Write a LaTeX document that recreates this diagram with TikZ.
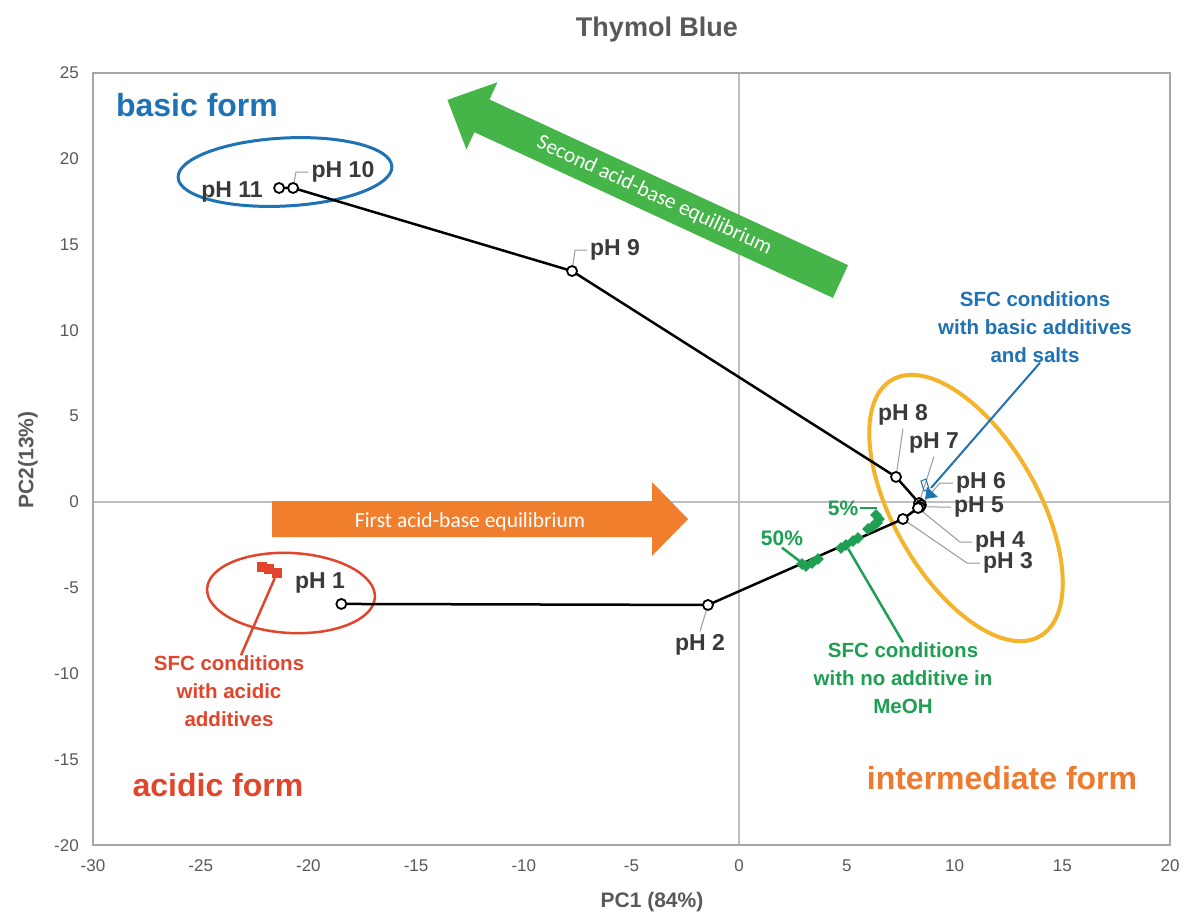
\documentclass[tikz,border=0pt]{standalone}
\usepackage{fontspec}
\setmainfont{Liberation Sans}
\newfontfamily\calibri{Carlito}
\usetikzlibrary{positioning, shapes.geometric}

\definecolor{framegray}{HTML}{A6A6A6}
\definecolor{zerogray}{HTML}{BFBFBF}
\definecolor{tickgray}{HTML}{595959}
\definecolor{phgray}{HTML}{3A3A3A}
\definecolor{leadgray}{HTML}{9A9A9A}
\definecolor{basicblue}{HTML}{1F72B4}
\definecolor{acidred}{HTML}{E1462C}
\definecolor{midorange}{HTML}{EE7A30}
\definecolor{ringyellow}{HTML}{F3B32B}
\definecolor{sfcgreen}{HTML}{1E9F52}
\definecolor{arrowgreen}{HTML}{46B549}
\definecolor{arroworange}{HTML}{F07E2D}

\tikzset{
  phlab/.style={font=\bfseries\fontsize{23}{23}\selectfont, text=phgray, inner sep=3pt},
  phpt/.style={circle, draw=black, fill=white, line width=1.8pt, minimum size=10pt, inner sep=0pt},
  leader/.style={draw=leadgray, line width=1pt},
  ticklab/.style={font=\fontsize{17}{17}\selectfont, text=tickgray, inner sep=0pt},
  axtitle/.style={font=\bfseries\fontsize{21}{21}\selectfont, text=tickgray, inner sep=0pt},
  formlab/.style={font=\bfseries\fontsize{32}{32}\selectfont, inner sep=0pt},
  sfclab/.style={font=\bfseries\fontsize{20.5}{28}\selectfont, align=center, inner sep=0pt},
  pctlab/.style={font=\bfseries\fontsize{21}{21}\selectfont, text=sfcgreen, inner sep=2pt},
  arrowtext/.style={font=\calibri\fontsize{21.5}{21.5}\selectfont, text=white, inner sep=0pt},
  gmark/.style={diamond, fill=sfcgreen, minimum size=12pt, inner sep=0pt},
  rmark/.style={rectangle, fill=acidred, minimum size=10pt, inner sep=0pt},
}

\begin{document}
\begin{tikzpicture}[x=1pt, y=-1pt, every node/.style={anchor=center}]
\path[use as bounding box, fill=white] (0,0) rectangle (1184,914);

% zero lines and frame
\draw[zerogray, line width=1.5pt] (739.2,73) -- (739.2,845);
\draw[zerogray, line width=1.5pt] (93,502) -- (1170,502);
\draw[framegray, line width=1.5pt] (93,73) rectangle (1170,845);

% tick labels
\foreach \v in {-20,-15,...,25}
  \node[ticklab, anchor=east] (ytick\v) at (79,{502-17.16*(\v)}) {\v};
\foreach \v in {-30,-25,...,20}
  \node[ticklab] (xtick\v) at ({739.2+21.54*(\v)},866) {\v};

\node[font=\bfseries\fontsize{27}{27}\selectfont, text=tickgray] (title) at (657,30) {Thymol Blue};
\node[axtitle] (xtitle) at (652,902) {PC1 (84\%)};
\node[axtitle, rotate=90] (ytitle) at (28,460) {PC2(13\%)};

% big arrows
\begin{scope}[shift={(840.5,281.5)}, rotate=155.2]
  \fill[arrowgreen] (0,-18) -- (395,-18) -- (395,-37) -- (433,0) -- (395,37) -- (395,18) -- (0,18) -- cycle;
  \node[arrowtext, rotate=-24.8] (eqtwo) at (205,0) {Second acid-base equilibrium};
\end{scope}
\begin{scope}[shift={(272,519)}]
  \fill[arroworange] (0,-18) -- (380,-18) -- (380,-37) -- (416,0) -- (380,37) -- (380,18) -- (0,18) -- cycle;
  \node[arrowtext] (eqone) at (198,3) {First acid-base equilibrium};
\end{scope}

% form regions
\draw[basicblue, line width=3pt, rotate around={3:(285,172)}] (285,172) ellipse [x radius=107pt, y radius=34pt];
\draw[acidred, line width=2.5pt, rotate around={-3:(291,593)}] (291,593) ellipse [x radius=84pt, y radius=40pt];
\draw[ringyellow, line width=4pt, rotate around={-60:(966,508)}] (966,508) ellipse [x radius=148pt, y radius=72pt];

\node[formlab, text=basicblue] (basic) at (197,105) {basic form};
\node[formlab, text=acidred] (acidic) at (218,785) {acidic form};
\node[formlab, text=midorange] (inter) at (1002,778) {intermediate form};

% pH scores in data units
\begin{scope}[shift={(739.2,502)}, x=21.54pt, y=17.16pt]
  \foreach \n/\px/\py in {11/-21.36/18.30, 10/-20.71/18.30, 9/-7.76/13.46, 8/7.28/1.46,
                         7/8.35/-0.06, 6/8.44/-0.17, 5/8.39/-0.29, 4/8.30/-0.35,
                         3/7.60/-0.99, 2/-1.45/-6.00, 1/-18.47/-5.94}
    \coordinate (c\n) at (\px,\py);
\end{scope}

% pH labels
\node[phlab] (lab11) at (232,192) {pH 11};
\node[phlab] (lab10) at (343,172) {pH 10};
\node[phlab] (lab9) at (615,250) {pH 9};
\node[phlab] (lab8) at (903,415) {pH 8};
\node[phlab] (lab7) at (934,443) {pH 7};
\node[phlab] (lab6) at (981,483) {pH 6};
\node[phlab] (lab5) at (979,507) {pH 5};
\node[phlab] (lab4) at (1000,542) {pH 4};
\node[phlab] (lab3) at (1008,563) {pH 3};
\node[phlab] (lab2) at (700,645) {pH 2};
\node[phlab] (lab1) at (320,583) {pH 1};

% leaders
\draw[leader] (c10) -- (296,172) -- (lab10.west);
\draw[leader] (c9) -- (575,250) -- (lab9.west);
\draw[leader] (c8) -- (lab8.south);
\draw[leader] (c7) -- (lab7.south);
\draw[leader] (c6) -- (940,483) -- (lab6.west);
\draw[leader] (c5) -- (lab5.west);
\draw[leader] (c4) -- (960,542) -- (lab4.west);
\draw[leader] (c3) -- (967,563) -- (lab3.west);
\draw[leader] (c2) -- (lab2.north);

% titration path
\draw[line width=2.5pt] (c11) -- (c10) -- (c9) -- (c8) -- (c7) -- (c6) -- (c5) -- (c4) -- (c3) -- (c2) -- (c1);
\foreach \n in {11,...,1}
  \node[phpt] (p\n) at (c\n) {};

% SFC conditions, no additive
\foreach \gx/\gy [count=\i] in {876/515, 879/519, 877/523, 873/526, 868/529,
                                858/538, 853/541, 846/545, 841/548,
                                818/559, 812/563, 806/566, 802/564}
  \node[gmark] (g\i) at (\gx,\gy) {};
\node[pctlab] (pcta) at (843,508) {5\%};
\node[pctlab] (pctb) at (782,538) {50\%};
\draw[sfcgreen, line width=2.5pt] (pcta.east) -| (g1);
\draw[sfcgreen, line width=2.5pt] (pctb.south) -- (g12);
\node[sfclab, text=sfcgreen] (greentxt) at (903,678) {SFC conditions\\with no additive in\\MeOH};
\draw[sfcgreen, line width=2.5pt] (greentxt.north) -- (g8);

% SFC conditions, acidic additives
\foreach \rx/\ry [count=\i] in {262/567, 269/569, 277/573}
  \node[rmark] (r\i) at (\rx,\ry) {};
\node[sfclab, text=acidred] (redtxt) at (229,691) {SFC conditions\\with acidic\\additives};
\draw[acidred, line width=2.5pt] ([xshift=12pt]redtxt.north) -- (r3);

% SFC conditions, basic additives and salts
\node[sfclab, text=basicblue] (bluetxt) at (1035,327) {SFC conditions\\with basic additives\\and salts};
\coordinate (bluetip) at (931,488);
\draw[basicblue, line width=2pt] ([xshift=5pt]bluetxt.south) -- (bluetip);
\fill[basicblue] (927,487) -- (938,497) -- (925,499) -- cycle;
\draw[basicblue, line width=1pt] (921,481) -- (926,479) -- (929,489) -- (924,491) -- cycle;

\end{tikzpicture}
\end{document}
